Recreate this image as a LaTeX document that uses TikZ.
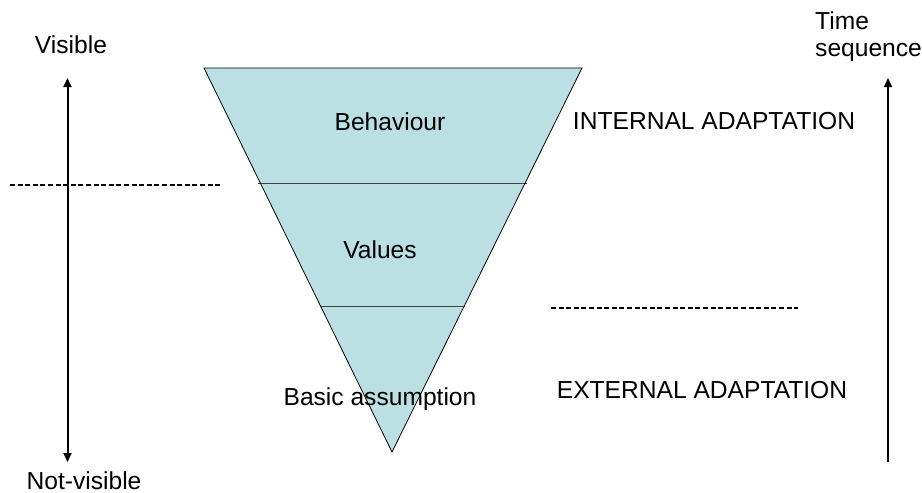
\documentclass[tikz,border=0pt]{standalone}
\usepackage{fontspec}
\setmainfont{Liberation Sans}
\usetikzlibrary{arrows.meta}
\definecolor{tri}{HTML}{BBE0E3}
\tikzset{
  lbl/.style={anchor=base, inner sep=0pt, font=\fontsize{24.6}{28}\selectfont},
  vis/.style={line width=2pt, -{Triangle[length=9pt,width=8pt]}},
  dashline/.style={line width=2pt, dash pattern=on 5pt off 2.6pt},
  divider/.style={line width=0.8pt, draw=black!75}
}
\begin{document}
\begin{tikzpicture}[x=1pt,y=-1pt]
\useasboundingbox (0,0) rectangle (922,493);
% triangle
\coordinate (tl) at (204,68);
\coordinate (tr) at (582,68);
\coordinate (ap) at (392,452);
\fill[tri] (tl) -- (tr) -- (ap) -- cycle;
\coordinate (d1l) at (258,183);
\coordinate (d1r) at (527,183);
\coordinate (d2l) at (321,306);
\coordinate (d2r) at (465,306);
\draw[divider] (d1l) -- (d1r);
\draw[divider] (d2l) -- (d2r);
\draw[line width=0.8pt, line join=miter] (tl) -- (tr) -- (ap) -- cycle;
% labels inside
\node[lbl] (beh) at (390,130) {Behaviour};
\node[lbl] (val) at (380,258) {Values};
\node[lbl] (bas) at (380,405) {Basic assumption};
% left axis
\node[lbl] (visible) at (71,53) {Visible};
\node[lbl] (notvis) at (84,489) {Not-visible};
\coordinate (la) at (67.5,78);
\coordinate (lb) at (67.5,462);
\coordinate (lm) at (67.5,270);
\draw[vis] (lm) -- (la);
\draw[vis] (lm) -- (lb);
% dashed lines
\coordinate (dl1) at (10,185);
\coordinate (dl2) at (220,185);
\draw[dashline] (dl1) -- (dl2);
\coordinate (dr1) at (551,307.5);
\coordinate (dr2) at (798,307.5);
\draw[dashline] (dr1) -- (dr2);
% right labels
\node[lbl] (inta) at (714,129) {INTERNAL ADAPTATION};
\node[lbl] (exta) at (702,398) {EXTERNAL ADAPTATION};
\node[lbl, anchor=base west] (time) at (815,29) {Time};
\node[lbl, anchor=base west] (seq) at (815,56) {sequence};
% right arrow
\coordinate (ra) at (888,78);
\coordinate (rb) at (888,462);
\draw[vis] (rb) -- (ra);
\end{tikzpicture}
\end{document}
